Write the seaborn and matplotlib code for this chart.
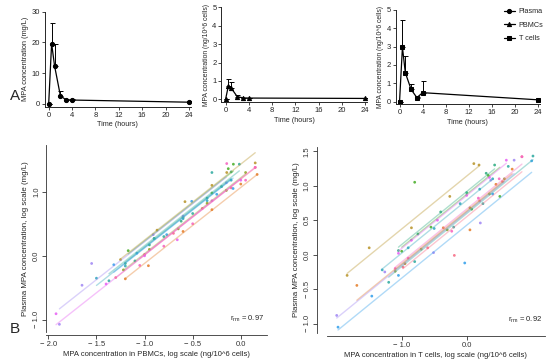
import numpy as np
import pandas as pd
import matplotlib.pyplot as plt
import seaborn as sns

# Panel A: mean concentration over time (upper error bar = SD)
hours = [0, 0.5, 1, 2, 3, 4, 24]
plasma_mean = [0, 19.6, 12.4, 2.6, 1.2, 1.2, 0.5]
plasma_sd = [0, 6.7, 7.0, 1.6, 0.3, 0.4, 0.3]
pbmc_mean = [0, 0.75, 0.6, 0.15, 0.08, 0.07, 0.05]
pbmc_sd = [0, 0.33, 0.33, 0.06, 0.02, 0.02, 0.01]
tcell_mean = [0, 2.97, 1.58, 0.67, 0.22, 0.49, 0.10]
tcell_sd = [0, 1.48, 0.93, 0.30, 0.06, 0.62, 0.05]
time_ticks = [0, 4, 8, 12, 16, 20, 24]

# Panel B: log10 values per subject (x = cells, y = plasma)
pbmc_log = [
    [-1.30, -1.00, -0.70, -0.40, -0.10, 0.15],
    [-1.20, -0.96, -0.60, -0.30, 0.00, 0.17],
    [-1.25, -0.87, -0.58, -0.30, -0.146, 0.15],
    [-1.22, -0.95, -0.65, -0.35, -0.15, 0.05],
    [-1.17, -0.90, -0.60, -0.30, -0.13, -0.077],
    [-1.20, -0.95, -0.62, -0.35, -0.20, -0.10],
    [-1.37, -1.10, -0.80, -0.50, -0.30, -0.015],
    [-1.50, -1.20, -0.90, -0.60, -0.35, -0.10],
    [-1.32, -1.08, -0.77, -0.51, -0.25, -0.08],
    [-1.885, -1.65, -1.55, -0.91, -0.60, -0.15],
    [-1.92, -1.40, -1.00, -0.66, -0.30, 0.00],
    [-1.05, -0.80, -0.50, -0.146, 0.05, 0.15],
]
plasma_vs_pbmc = [
    [-0.34, 0.02, 0.35, 0.74, 1.06, 1.38],
    [-0.36, -0.155, 0.38, 0.72, 1.12, 1.27],
    [-0.06, 0.40, 0.845, 1.10, 1.30, 1.45],
    [-0.22, 0.10, 0.42, 0.82, 1.02, 1.30],
    [0.08, 0.27, 0.60, 0.98, 1.36, 1.43],
    [-0.12, 0.17, 0.54, 0.90, 1.08, 1.31],
    [-0.39, -0.08, 0.30, 0.66, 1.30, 1.43],
    [-0.35, -0.16, 0.27, 0.58, 0.86, 1.18],
    [-0.14, 0.04, 0.33, 0.85, 0.96, 1.05],
    [-1.07, -0.46, -0.12, 0.33, 0.62, 1.14],
    [-0.905, -0.44, 0.00, 0.25, 0.86, 1.18],
    [-0.15, 0.15, 0.50, 1.44, 1.18, 1.38],
]
tcell_log = [
    [-0.98, -0.60, -0.19, 0.20, 0.55, 0.85],
    [-1.69, -0.95, -0.36, 0.05, 0.45, 0.70],
    [-1.84, -1.50, -0.85, -0.26, 0.11, 0.19],
    [-1.10, -0.70, -0.30, 0.05, 0.35, 0.58],
    [-1.00, -0.80, -0.55, 0.077, 0.33, 0.51],
    [-1.05, -0.75, -0.40, 0.00, 0.30, 0.43],
    [-1.20, -0.80, -0.20, 0.25, 0.64, 1.02],
    [-1.30, -0.90, -0.50, -0.10, 0.20, 0.40],
    [-1.98, -1.46, -1.05, -0.03, 0.40, 1.00],
    [-2.00, -1.26, -0.51, 0.21, 0.37, 0.73],
    [-1.05, -0.85, -0.45, 0.00, 0.35, 0.61],
    [-1.10, -0.90, -0.23, 0.18, 0.50, 0.85],
]
plasma_vs_tcell = [
    [-0.18, 0.10, -0.01, 0.78, 1.06, 1.42],
    [-0.445, -0.13, 0.39, 0.36, 1.02, 1.24],
    [-0.30, 0.10, 0.39, 0.845, 1.32, 1.30],
    [-0.24, 0.08, 0.36, 0.68, 0.88, 1.10],
    [0.05, 1.05, 0.40, 0.66, 1.15, 0.845],
    [0.06, 0.30, 0.62, 0.90, 1.18, 1.30],
    [-0.40, -0.10, 0.40, 0.74, 1.28, 1.43],
    [-0.22, 0.10, 0.38, 0.74, 0.95, 1.10],
    [-1.05, -0.60, -0.30, -0.12, 0.88, 1.36],
    [-0.88, -0.25, 0.03, 0.46, 1.08, 1.37],
    [0.02, 0.21, 0.50, 0.86, 1.12, 1.37],
    [-0.20, -0.05, 0.34, 0.82, 1.10, 1.42],
]

sns.set_style("ticks")
plt.rcParams['font.family'] = ['Liberation Sans', 'DejaVu Sans']

fig = plt.figure(figsize=(5.5, 3.63), dpi=100)

# ---- top row ----
top_axes = [
    fig.add_axes([0.0811, 0.7058, 0.2656, 0.2620]),
    fig.add_axes([0.4027, 0.7187, 0.2642, 0.2612]),
    fig.add_axes([0.7191, 0.7124, 0.2622, 0.2601]),
]
series = [
    ("Plasma", plasma_mean, plasma_sd, "o", top_axes[0], "MPA concentration (mg/L)", [0, 10, 20, 30], (-1, 30), 5.3),
    ("PBMCs", pbmc_mean, pbmc_sd, "^", top_axes[1], "MPA concentration (ng/10^6 cells)", [0, 1, 2, 3, 4, 5], (-0.15, 5), 4.9),
    ("T cells", tcell_mean, tcell_sd, "s", top_axes[2], "MPA concentration (ng/10^6 cells)", [0, 1, 2, 3, 4, 5], (-0.15, 5), 4.9),
]
handles = []
for name, mean, sd, mk, ax, ylab, yt, ylim, yfs in series:
    df = pd.DataFrame({"Time": hours, "conc": mean})
    sns.lineplot(data=df, x="Time", y="conc", color="black", lw=0.9, marker=mk,
                 markersize=3.0, markeredgecolor="black", ax=ax, label=name, legend=False)
    ax.errorbar(hours, mean, yerr=[np.zeros(len(sd)), sd], fmt="none", ecolor="black",
                elinewidth=0.7, capsize=1.8, capthick=0.7)
    handles.append(ax.lines[0])
    ax.set_xlim(-0.7, 24.3)
    ax.set_ylim(*ylim)
    ax.set_xticks(time_ticks)
    ax.set_yticks(yt)
    ax.set_xlabel("Time (hours)", fontsize=5.2, labelpad=2)
    ax.set_ylabel(ylab, fontsize=yfs, labelpad=2)
    ax.tick_params(labelsize=5.5, length=2, width=0.6, pad=1.5)
    for s in ["left", "bottom"]:
        ax.spines[s].set_linewidth(0.7)
    sns.despine(ax=ax)

fig.legend(handles, ["Plasma", "PBMCs", "T cells"], loc="upper right",
           bbox_to_anchor=(1.0, 0.995), frameon=False, fontsize=5.2, handlelength=1.6,
           labelspacing=0.9, handletextpad=0.5)

# ---- bottom row: repeated-measures correlation ----
pal = sns.color_palette("husl", 12)
subjects = ["S%02d" % (i + 1) for i in range(12)]


def rm_plot(ax, xs, ys):
    pts = pd.DataFrame([(subjects[i], xv, yv) for i, (x, y) in enumerate(zip(xs, ys))
                        for xv, yv in zip(x, y)], columns=["subject", "x", "y"])
    g = pts.groupby("subject")
    dx = pts["x"] - g["x"].transform("mean")
    dy = pts["y"] - g["y"].transform("mean")
    slope = (dx * dy).sum() / (dx ** 2).sum()
    rows = []
    for s, d in g:
        xb, yb = d["x"].mean(), d["y"].mean()
        for xe in (d["x"].min(), d["x"].max()):
            rows.append((s, xe, yb + slope * (xe - xb)))
    lines = pd.DataFrame(rows, columns=["subject", "x", "y"])
    sns.lineplot(data=lines, x="x", y="y", hue="subject", units="subject", estimator=None,
                 palette=pal, hue_order=subjects, lw=1.0, alpha=0.4, legend=False, ax=ax)
    sns.scatterplot(data=pts, x="x", y="y", hue="subject", palette=pal, hue_order=subjects,
                    s=4, linewidth=0, alpha=0.9, legend=False, ax=ax)


axL = fig.add_axes([0.0844, 0.0854, 0.4015, 0.5152])
axR = fig.add_axes([0.5940, 0.0826, 0.3969, 0.5132])
rm_plot(axL, pbmc_log, plasma_vs_pbmc)
rm_plot(axR, tcell_log, plasma_vs_tcell)

axL.set_xlim(-2.02, 0.275)
axL.set_ylim(-1.19, 1.73)
axL.set_xticks([-2.0, -1.5, -1.0, -0.5, 0.0])
axL.set_xticklabels(["\u2212 2.0", "\u2212 1.5", "\u2212 1.0", "\u2212 0.5", "0.0"])
axL.set_yticks([-1.0, 0.0, 1.0])
axL.set_yticklabels(["\u2212 1.0", "0.0", "1.0"])
axL.set_xlabel("MPA concentration in PBMCs, log scale (ng/10^6 cells)", fontsize=5.5, labelpad=2)
axL.set_ylabel("Plasma MPA concentration, log scale (mg/L)", fontsize=5.7, labelpad=3)
axL.text(0.91, 0.06, r"$\mathregular{r_{rm}}$ = 0.97", transform=axL.transAxes,
         fontsize=5.5, ha="center")

axR.set_xlim(-2.154, 1.205)
axR.set_ylim(-1.135, 1.565)
axR.set_xticks([-1.0, 0.0])
axR.set_xticklabels(["\u2212 1.0", "0.0"])
axR.set_yticks([-1.0, -0.5, 0.0, 0.5, 1.0, 1.5])
axR.set_yticklabels(["\u2212 1.0", "\u2212 0.5", "0.0", "0.5", "1.0", "1.5"])
axR.set_xlabel("MPA concentration in T cells, log scale (ng/10^6 cells)", fontsize=5.5, labelpad=2)
axR.set_ylabel("Plasma MPA concentration, log scale (mg/L)", fontsize=5.7, labelpad=3)
axR.text(0.91, 0.06, r"$\mathregular{r_{rm}}$ = 0.92", transform=axR.transAxes,
         fontsize=5.5, ha="center")

for ax, loff in ((axL, 0), (axR, 7)):
    sns.despine(ax=ax)
    ax.spines["bottom"].set_position(("outward", 2.2))
    ax.spines["left"].set_position(("outward", loff))
    for s in ["left", "bottom"]:
        ax.spines[s].set_linewidth(0.6)
        ax.spines[s].set_color("#333333")
    ax.tick_params(labelsize=5.5, length=3, width=0.6, pad=1.5, colors="#333333")
    for lab in ax.get_yticklabels():
        lab.set_rotation(90)
        lab.set_va("center")

fig.text(0.018, 0.725, "A", fontsize=11)
fig.text(0.018, 0.083, "B", fontsize=11)

fig.savefig("out.png", dpi=100)
